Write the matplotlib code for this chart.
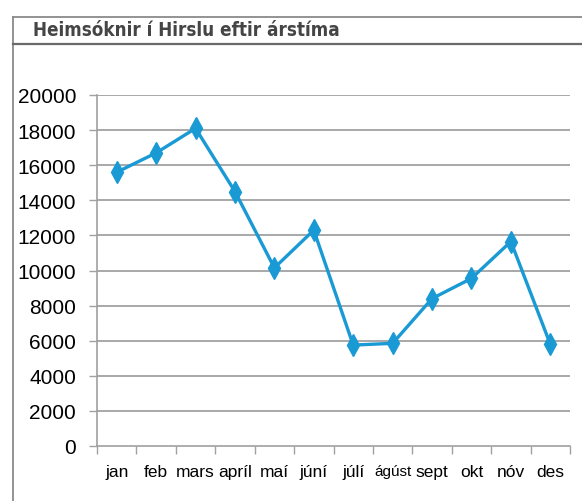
import matplotlib.pyplot as plt
from matplotlib.lines import Line2D

# monthly visits
months = ['jan', 'feb', 'mars', 'apríl', 'maí', 'júní', 'júlí', 'ágúst', 'sept', 'okt', 'nóv', 'des']
visits = [15600, 16700, 18100, 14500, 10150, 12300, 5750, 5850, 8400, 9550, 11650, 5800]
yticks = [0, 2000, 4000, 6000, 8000, 10000, 12000, 14000, 16000, 18000, 20000]
title = 'Heimsóknir í Hirslu eftir árstíma'

W, H = 582, 502
fig = plt.figure(figsize=(W / 100, H / 100), dpi=100)
fig.patch.set_facecolor('white')

# frame around the chart + title bar
frame = '#8a8a8a'
fig.add_artist(Line2D([13 / W, 1], [1 - 18 / H, 1 - 18 / H], color=frame, lw=1.3))
fig.add_artist(Line2D([13 / W, 13 / W], [0, 1 - 18 / H], color=frame, lw=1.3))
fig.add_artist(Line2D([13 / W, 1], [1 - 45 / H, 1 - 45 / H], color='#6a6a6a', lw=1.6))
fig.text(33 / W, 1 - 31 / H, title, fontsize=13.5, fontweight='heavy', color='#454545',
         va='center', ha='left', family='DejaVu Sans', fontstretch='condensed')

ax = fig.add_axes([97 / W, 1 - 447 / H, (570 - 97) / W, (447 - 96) / H])
x = list(range(len(months)))
ax.plot(x, visits, color='#1a9ad4', lw=2.4, marker='d', markersize=11,
        markeredgecolor='#1a9ad4', markerfacecolor='#1a9ad4', zorder=3)

ax.set_xlim(-0.5, len(months) - 0.5)
ax.set_ylim(0, 20000)
ax.set_yticks(yticks)
ax.set_yticklabels([str(v) for v in yticks], fontsize=15, family='Liberation Sans')
ax.set_xticks(x)
ax.set_xticklabels(months, fontsize=12.5, family='Liberation Sans')
ax.get_xticklabels()[7].set_fontsize(11)
ax.set_xticks([i - 0.5 for i in range(len(months) + 1)], minor=True)
ax.tick_params(axis='x', which='major', length=0, pad=13)
ax.tick_params(axis='x', which='minor', length=6, color='#a0a0a0', width=1)
ax.tick_params(axis='y', length=6, color='#a0a0a0', width=1, pad=9)

for v in yticks[1:]:
    ax.axhline(v, color='#a8a8a8', lw=1.4, zorder=1)

for s in ['top', 'right']:
    ax.spines[s].set_visible(False)
ax.spines['left'].set_color('#a0a0a0')
ax.spines['bottom'].set_color('#a0a0a0')
ax.spines['left'].set_linewidth(1.2)
ax.spines['bottom'].set_linewidth(1.2)

fig.savefig('out.png', dpi=100)
